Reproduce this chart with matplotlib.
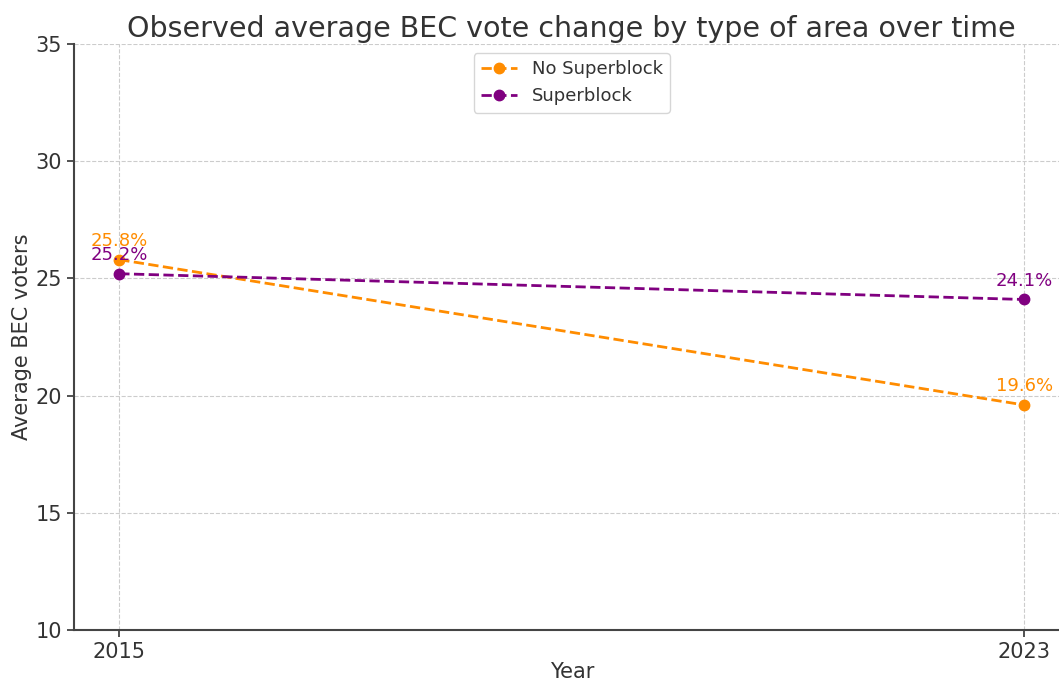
import matplotlib
matplotlib.use("Agg")
import matplotlib.pyplot as plt

years = [2015, 2023]
no_superblock = [25.8, 19.6]
superblock = [25.2, 24.1]
series_labels = ["No Superblock", "Superblock"]
series_colors = ["darkorange", "purple"]

text_color = "#333333"
plt.rcParams["font.family"] = "DejaVu Sans"

fig = plt.figure(figsize=(10.59, 6.82), dpi=100)
W, H = 1059, 682
ax = fig.add_axes([74 / W, (H - 630) / H, (1069.5 - 74) / W, (630 - 44) / H])

for vals, lab, col in zip([no_superblock, superblock], series_labels, series_colors):
    ax.plot(years, vals, linestyle="--", marker="o", color=col, label=lab,
            linewidth=2, markersize=7.5)
    for x, y in zip(years, vals):
        ax.annotate(f"{y}%", (x, y), textcoords="offset points", xytext=(0, 10),
                    ha="center", color=col, fontsize=13)

ax.set_ylim(10, 35)
ax.set_xticks(years)
ax.set_xticklabels([str(y) for y in years])
ax.set_title("Observed average BEC vote change by type of area over time",
             fontsize=20.5, color=text_color, pad=5)
ax.set_xlabel("Year", fontsize=15, color=text_color, labelpad=0)
ax.set_ylabel("Average BEC voters", fontsize=15, color=text_color, labelpad=3)
ax.tick_params(labelsize=15, colors=text_color, length=5, width=1.2)
ax.grid(True, linestyle="--", color="#cccccc", linewidth=0.8)
for s in ["top", "right"]:
    ax.spines[s].set_visible(False)
for s in ["left", "bottom"]:
    ax.spines[s].set_color("#444444")
    ax.spines[s].set_linewidth(1.5)

leg = ax.legend(loc="upper center", fontsize=13, frameon=True)
for t in leg.get_texts():
    t.set_color(text_color)

fig.savefig("out.png", dpi=100)
